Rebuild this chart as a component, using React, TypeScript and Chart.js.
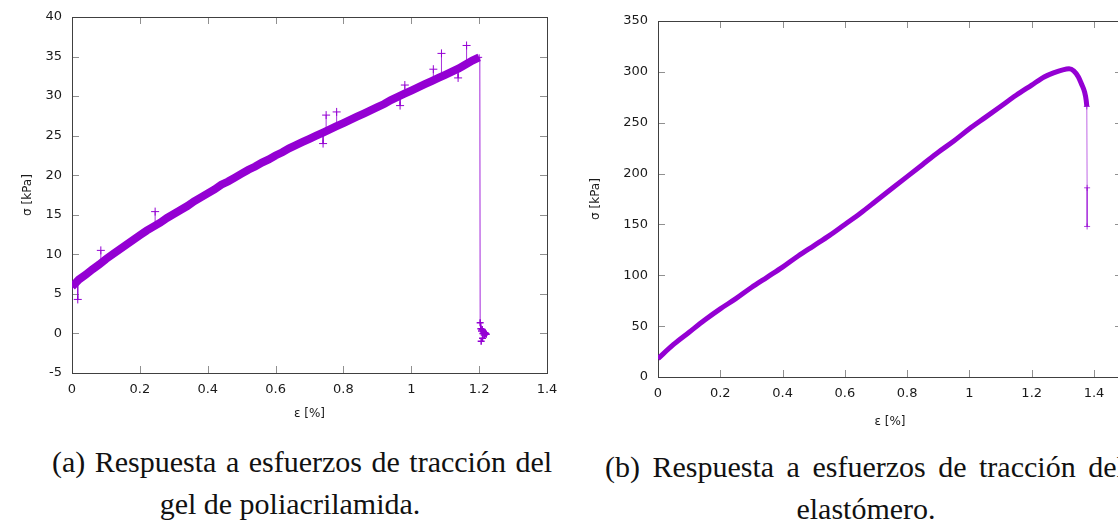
import React, { useEffect, useRef } from "react";
import { Chart, registerables } from "chart.js";

Chart.register(...registerables);

const PURPLE = "#9400d3";

// ---------- (a) gel de poliacrilamida ----------
const gelEps = [
  0, 0.02, 0.04, 0.06, 0.08, 0.1, 0.12, 0.14, 0.16, 0.18, 0.2, 0.22, 0.24, 0.26, 0.28, 0.3,
  0.32, 0.34, 0.36, 0.38, 0.4, 0.42, 0.44, 0.46, 0.48, 0.5, 0.52, 0.54, 0.56, 0.58, 0.6,
  0.62, 0.64, 0.66, 0.68, 0.7, 0.72, 0.74, 0.76, 0.78, 0.8, 0.82, 0.84, 0.86, 0.88, 0.9,
  0.92, 0.94, 0.96, 0.98, 1.0, 1.02, 1.04, 1.06, 1.08, 1.1, 1.12, 1.14, 1.16, 1.18, 1.2,
];
const gelSig = [
  5.9, 6.8, 7.4, 8.1, 8.7, 9.4, 10.0, 10.6, 11.2, 11.8, 12.4, 13.0, 13.5, 14.0, 14.6, 15.1,
  15.6, 16.1, 16.7, 17.2, 17.7, 18.2, 18.8, 19.2, 19.7, 20.2, 20.7, 21.1, 21.6, 22.0, 22.5,
  22.9, 23.4, 23.8, 24.2, 24.6, 25.0, 25.4, 25.8, 26.2, 26.6, 27.0, 27.4, 27.8, 28.2, 28.6,
  29.0, 29.5, 29.9, 30.3, 30.7, 31.1, 31.5, 31.9, 32.3, 32.7, 33.1, 33.5, 34.0, 34.5, 34.9,
];
const gelSpikeEps = [0.017, 0.085, 0.245, 0.74, 0.749, 0.78, 0.967, 0.981, 1.065, 1.089, 1.138, 1.163];
const gelSpikeBase = [6.4, 9.0, 13.6, 25.0, 25.6, 26.2, 29.9, 30.3, 31.9, 32.5, 33.4, 34.0];
const gelSpikePeak = [4.3, 10.5, 15.4, 24.0, 27.6, 28.0, 28.8, 31.4, 33.4, 35.4, 32.3, 36.4];
const gelDropEps = [1.202, 1.203, 1.205, 1.207, 1.209, 1.211, 1.213, 1.215, 1.217, 1.219, 1.221, 1.21, 1.206];
const gelDropSig = [34.9, 1.35, 0.6, 0.3, 0.5, 0.0, 0.2, -0.2, 0.1, 0.0, -0.1, -0.6, -1.0];
const gelXTicks = [0, 0.2, 0.4, 0.6, 0.8, 1, 1.2, 1.4];
const gelXLabels = ["0", "0.2", "0.4", "0.6", "0.8", "1", "1.2", "1.4"];
const gelYTicks = [-5, 0, 5, 10, 15, 20, 25, 30, 35, 40];
const gelYLabels = ["-5", "0", "5", "10", "15", "20", "25", "30", "35", "40"];

// ---------- (b) elastómero ----------
const elaEps = [
  0, 0.05, 0.1, 0.15, 0.2, 0.25, 0.3, 0.35, 0.4, 0.45, 0.5, 0.55, 0.6, 0.65, 0.7, 0.75, 0.8,
  0.85, 0.9, 0.95, 1.0, 1.05, 1.1, 1.15, 1.2, 1.24, 1.27, 1.3, 1.32, 1.335, 1.35, 1.36, 1.37,
  1.375, 1.377,
];
const elaSig = [
  18, 32, 44, 56, 67, 77, 88, 98, 108, 119, 129, 139, 150, 161, 173, 185, 197, 209, 221, 232,
  244, 255, 266, 277, 287, 295, 299, 302, 303, 301, 295, 288, 280, 272, 266,
];
const elaTailEps = [1.377, 1.378, 1.378];
const elaTailSig = [266, 186, 148];
const elaXTicks = [0, 0.2, 0.4, 0.6, 0.8, 1, 1.2, 1.4];
const elaXLabels = ["0", "0.2", "0.4", "0.6", "0.8", "1", "1.2", "1.4"];
const elaYTicks = [0, 50, 100, 150, 200, 250, 300, 350];
const elaYLabels = ["0", "50", "100", "150", "200", "250", "300", "350"];

const gnuplotFrame = {
  id: "gnuplotFrame",
  beforeDatasetsDraw(chart: any) {
    const { ctx, chartArea: a, scales } = chart;
    const tl = 7;
    ctx.save();
    ctx.lineWidth = 1;
    ctx.strokeStyle = "#909090";
    ctx.beginPath();
    for (const t of scales.x.ticks) {
      const px = Math.round(scales.x.getPixelForValue(t.value)) + 0.5;
      ctx.moveTo(px, a.bottom);
      ctx.lineTo(px, a.bottom - tl);
      ctx.moveTo(px, a.top);
      ctx.lineTo(px, a.top + tl);
    }
    for (const t of scales.y.ticks) {
      const py = Math.round(scales.y.getPixelForValue(t.value)) + 0.5;
      ctx.moveTo(a.left, py);
      ctx.lineTo(a.left + tl, py);
      ctx.moveTo(a.right, py);
      ctx.lineTo(a.right - tl, py);
    }
    ctx.stroke();
    ctx.strokeStyle = "#404040";
    ctx.strokeRect(Math.round(a.left) + 0.5, Math.round(a.top) + 0.5, Math.round(a.width), Math.round(a.height));
    ctx.restore();
  },
};

const pts = (xs: number[], ys: number[]) => xs.map((x, i) => ({ x, y: ys[i] }));

function axisX(min: number, max: number, ticks: number[], labels: string[], height: number, titlePadBottom: number) {
  return {
    type: "linear",
    min,
    max,
    afterBuildTicks: (s: any) => {
      s.ticks = ticks.map((v) => ({ value: v }));
    },
    afterFit: (s: any) => {
      s.height = height;
      s.paddingLeft = 0;
      s.paddingRight = 0;
    },
    grid: { display: false, drawTicks: false },
    border: { display: false },
    ticks: {
      padding: 9,
      color: "#1a1a1a",
      font: { family: "DejaVu Sans", size: 13 },
      maxRotation: 0,
      autoSkip: false,
      callback: (_v: any, i: number) => labels[i],
    },
    title: {
      display: true,
      text: "ε [%]",
      color: "#1a1a1a",
      font: { family: "DejaVu Sans", size: 12 },
      padding: { top: 0, bottom: titlePadBottom },
    },
  };
}

function axisY(min: number, max: number, ticks: number[], labels: string[], width: number, titlePadTop: number) {
  return {
    type: "linear",
    min,
    max,
    afterBuildTicks: (s: any) => {
      s.ticks = ticks.map((v) => ({ value: v }));
    },
    afterFit: (s: any) => {
      s.width = width;
      s.paddingTop = 0;
      s.paddingBottom = 0;
    },
    grid: { display: false, drawTicks: false },
    border: { display: false },
    ticks: {
      padding: 10,
      color: "#1a1a1a",
      font: { family: "DejaVu Sans", size: 13 },
      autoSkip: false,
      callback: (_v: any, i: number) => labels[i],
    },
    title: {
      display: true,
      text: "σ [kPa]",
      color: "#1a1a1a",
      font: { family: "DejaVu Sans", size: 12 },
      padding: { top: titlePadTop, bottom: 0 },
    },
  };
}

function gelConfig(): any {
  const spikes: any[] = [];
  gelSpikeEps.forEach((x, i) => {
    spikes.push({ x, y: gelSpikeBase[i] });
    spikes.push({ x, y: gelSpikePeak[i] });
    spikes.push({ x, y: null });
  });
  return {
    type: "line",
    data: {
      datasets: [
        {
          data: pts(gelEps, gelSig),
          borderColor: PURPLE,
          borderWidth: 8,
          pointStyle: "cross",
          pointRadius: 3,
          pointBorderWidth: 1,
          pointBorderColor: PURPLE,
          tension: 0,
        },
        {
          data: spikes,
          borderColor: "rgba(148,0,211,0.8)",
          borderWidth: 1,
          spanGaps: false,
          pointStyle: "cross",
          pointRadius: (c: any) => (c.dataIndex % 3 === 1 ? 4 : 0),
          pointBorderWidth: 1,
          pointBorderColor: PURPLE,
        },
        {
          data: pts(gelDropEps, gelDropSig),
          borderColor: "rgba(148,0,211,0.85)",
          borderWidth: 1,
          pointStyle: "cross",
          pointRadius: (c: any) => (c.dataIndex === 0 ? 0 : 3.5),
          pointBorderWidth: 1.5,
          pointBorderColor: PURPLE,
        },
      ],
    },
    options: {
      animation: false,
      responsive: false,
      layout: { padding: { left: 0, right: 13, top: 17, bottom: 7 } },
      plugins: { legend: { display: false }, tooltip: { enabled: false } },
      scales: {
        x: axisX(0, 1.4, gelXTicks, gelXLabels, 50, 2),
        y: axisY(-5, 40, gelYTicks, gelYLabels, 72, 21),
      },
    },
    plugins: [gnuplotFrame],
  };
}

function elaConfig(): any {
  return {
    type: "line",
    data: {
      datasets: [
        {
          data: pts(elaEps, elaSig),
          borderColor: PURPLE,
          borderWidth: 5,
          pointRadius: 0,
          cubicInterpolationMode: "monotone",
        },
        {
          data: pts(elaTailEps, elaTailSig),
          borderColor: "rgba(148,0,211,0.6)",
          borderWidth: 1,
          pointStyle: "cross",
          pointRadius: 3,
          pointBorderWidth: 1,
          pointBorderColor: "rgba(148,0,211,0.75)",
        },
      ],
    },
    options: {
      animation: false,
      responsive: false,
      layout: { padding: { left: 0, right: 48, top: 21, bottom: 1 } },
      plugins: { legend: { display: false }, tooltip: { enabled: false } },
      scales: {
        x: axisX(0, 1.49, elaXTicks, elaXLabels, 52, 0),
        y: axisY(0, 350, elaYTicks, elaYLabels, 88, 19),
      },
    },
    plugins: [gnuplotFrame],
  };
}

function ChartCanvas({ left, width, height, config }: { left: number; width: number; height: number; config: () => any }) {
  const ref = useRef<HTMLCanvasElement | null>(null);
  useEffect(() => {
    if (!ref.current) return;
    const chart = new Chart(ref.current, config());
    return () => chart.destroy();
  }, []);
  return (
    <canvas
      ref={ref}
      width={width}
      height={height}
      style={{ position: "absolute", left, top: 0, width, height }}
    />
  );
}

const capStyle: React.CSSProperties = {
  position: "absolute",
  fontFamily: '"Liberation Serif", "Times New Roman", serif',
  fontSize: 30,
  lineHeight: "30px",
  color: "#111",
  whiteSpace: "nowrap",
};

export default function App() {
  return (
    <div
      style={{
        position: "absolute",
        left: 0,
        top: 0,
        width: 1118,
        height: 522,
        overflow: "hidden",
        background: "#fff",
      }}
    >
      <ChartCanvas left={0} width={560} height={430} config={gelConfig} />
      <ChartCanvas left={570} width={600} height={430} config={elaConfig} />
      <div style={{ ...capStyle, left: 52, top: 447, wordSpacing: 2 }}>
        (a) Respuesta a esfuerzos de tracción del
      </div>
      <div style={{ ...capStyle, left: 90, top: 489, width: 400, textAlign: "center" }}>
        gel de poliacrilamida.
      </div>
      <div style={{ ...capStyle, left: 605, top: 452, wordSpacing: 5 }}>
        (b) Respuesta a esfuerzos de tracción del
      </div>
      <div style={{ ...capStyle, left: 716, top: 494, width: 300, textAlign: "center" }}>
        elastómero.
      </div>
    </div>
  );
}
